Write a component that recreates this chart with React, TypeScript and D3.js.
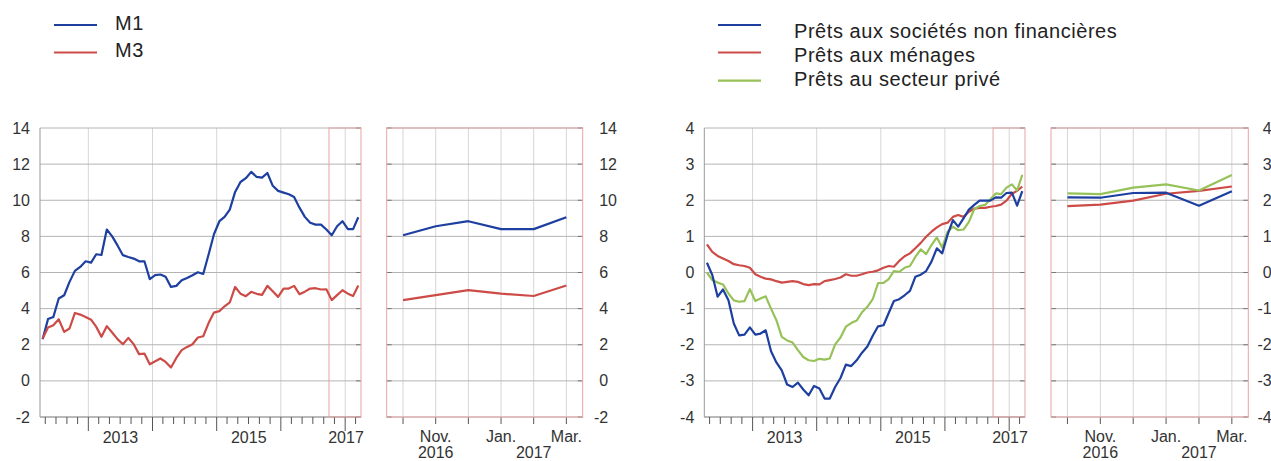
import React from "react";
import * as d3 from "d3";

// ---------- data ----------
const START_MONTH = "2012-04";

const M1 = [
  2.3, 3.42, 3.54, 4.56, 4.74, 5.48, 6.09, 6.31, 6.62, 6.55,
  7.01, 6.97, 8.38, 8.0, 7.5, 6.96, 6.86, 6.77, 6.62, 6.62,
  5.63, 5.85, 5.89, 5.76, 5.2, 5.26, 5.57, 5.7, 5.85, 6.01,
  5.92, 7.0, 8.12, 8.84, 9.08, 9.48, 10.46, 11.01, 11.22, 11.57,
  11.29, 11.25, 11.51, 10.8, 10.52, 10.42, 10.33, 10.18, 9.59, 9.08,
  8.75, 8.65, 8.65, 8.38, 8.06, 8.56, 8.84, 8.4, 8.4, 9.06,
];
const M3 = [
  2.34, 2.95, 3.08, 3.41, 2.71, 2.9, 3.76, 3.67, 3.54, 3.39,
  2.99, 2.44, 3.03, 2.68, 2.31, 2.03, 2.38, 2.03, 1.48, 1.51,
  0.92, 1.09, 1.24, 1.05, 0.74, 1.27, 1.7, 1.88, 2.03, 2.4,
  2.47, 3.2, 3.78, 3.86, 4.13, 4.34, 5.2, 4.83, 4.69, 4.93,
  4.82, 4.76, 5.26, 4.96, 4.65, 5.11, 5.11, 5.26, 4.8, 4.94,
  5.11, 5.13, 5.06, 5.07, 4.47, 4.75, 5.02, 4.83, 4.7, 5.28,
];
const NFC = [
  0.27, -0.07, -0.67, -0.47, -0.77, -1.41, -1.74, -1.72, -1.52, -1.72,
  -1.69, -1.6, -2.18, -2.49, -2.71, -3.1, -3.17, -3.05, -3.24, -3.4,
  -3.14, -3.21, -3.49, -3.49, -3.17, -2.92, -2.55, -2.59, -2.43, -2.22,
  -2.05, -1.75, -1.49, -1.46, -1.12, -0.79, -0.74, -0.63, -0.51, -0.12,
  -0.06, 0.04, 0.3, 0.67, 0.53, 1.05, 1.45, 1.27, 1.5, 1.74,
  1.87, 1.99, 1.99, 1.99, 2.08, 2.07, 2.2, 2.21, 1.85, 2.25,
];
const HOUSEHOLDS = [
  0.78, 0.57, 0.46, 0.39, 0.32, 0.23, 0.2, 0.18, 0.13, -0.05,
  -0.12, -0.17, -0.19, -0.24, -0.28, -0.26, -0.24, -0.26, -0.32, -0.35,
  -0.32, -0.33, -0.24, -0.21, -0.18, -0.14, -0.05, -0.09, -0.09, -0.05,
  0.0, 0.02, 0.06, 0.13, 0.18, 0.16, 0.32, 0.45, 0.53, 0.67,
  0.82, 0.99, 1.13, 1.25, 1.34, 1.38, 1.54, 1.59, 1.54, 1.68,
  1.77, 1.79, 1.79, 1.82, 1.84, 1.88, 1.99, 2.18, 2.26, 2.38,
];
const PRIVATE = [
  0.0, -0.21, -0.28, -0.33, -0.58, -0.77, -0.81, -0.79, -0.46, -0.79,
  -0.72, -0.66, -1.0, -1.32, -1.78, -1.88, -1.94, -2.15, -2.34, -2.43,
  -2.45, -2.39, -2.41, -2.38, -1.99, -1.8, -1.5, -1.4, -1.33, -1.1,
  -0.95, -0.74, -0.29, -0.29, -0.18, 0.04, 0.02, 0.13, 0.18, 0.43,
  0.64, 0.51, 0.76, 0.97, 0.69, 1.13, 1.27, 1.17, 1.19, 1.4,
  1.75, 1.84, 1.87, 2.03, 2.19, 2.17, 2.35, 2.44, 2.27, 2.7,
];

const MONEY_TICKS = [-2, 0, 2, 4, 6, 8, 10, 12, 14];
const LOAN_TICKS = [-4, -3, -2, -1, 0, 1, 2, 3, 4];
const YEAR_LABELS = [2013, 2015, 2017];
const ZOOM_MONTHS = ["Oct.", "Nov.", "Dec.", "Jan.", "Feb.", "Mar."];
const ZOOM_SHOWN = ["Nov.", "Jan.", "Mar."];
const ZOOM_YEARS = ["2016", "2016", "2016", "2017", "2017", "2017"];
const MONEY_LEGEND = ["M1", "M3"];
const LOAN_LEGEND = [
  "Prêts aux sociétés non financières",
  "Prêts aux ménages",
  "Prêts au secteur privé",
];

// ---------- style ----------
const BLUE = "#1d3f9f";
const RED = "#cd4b47";
const GREEN = "#97c259";
const FRAME_RED = "#e9a3a3";
const FONT = "'Liberation Sans', Arial, Helvetica, sans-serif";
const TEXT = "#333";

const start = d3.timeParse("%Y-%m")(START_MONTH) as Date;
const end = d3.timeMonth.offset(start, M1.length);
const months = d3.timeMonth.range(start, end);

type Series = { values: number[]; color: string };

function MainPanel(props: {
  left: number; right: number; top: number; bottom: number;
  domain: [number, number]; ticks: number[]; series: Series[];
}) {
  const { left, right, top, bottom, domain, ticks, series } = props;
  const x = d3.scaleTime().domain([start, end]).range([left, right]);
  const y = d3.scaleLinear().domain(domain).range([bottom, top]);
  const mid = (d: Date) => (x(d) + x(d3.timeMonth.offset(d, 1))) / 2;
  const line = d3.line<number>().x((_, i) => mid(months[i])).y((v) => y(v));
  const minor = d3.timeMonth.every(2)!.range(start, end);
  const years = d3.timeYear.range(start, end);
  const zoomStart = months[months.length - ZOOM_MONTHS.length];
  return (
    <g>
      {years.map((d, i) => (
        <line key={"vg" + i} x1={x(d)} x2={x(d)} y1={top} y2={bottom} stroke="#d6d6d6" />
      ))}
      {ticks.map((t) => (
        <g key={"hg" + t}>
          <line x1={left} x2={right} y1={y(t)} y2={y(t)} stroke="#b4b4b4" />
          <line x1={right - 5} x2={right} y1={y(t)} y2={y(t)} stroke="#777" />
          <text x={left - 10} y={y(t)} dy="0.35em" textAnchor="end" fontSize={16} fill={TEXT} fontFamily={FONT}>
            {t}
          </text>
        </g>
      ))}
      <line x1={left} x2={left} y1={top} y2={bottom} stroke="#999" />
      <line x1={left} x2={right} y1={bottom} y2={bottom} stroke="#999" />
      {minor.map((d, i) => (
        <line key={"tk" + i} x1={x(d)} x2={x(d)} y1={bottom} y2={bottom + (d.getMonth() === 0 ? 14 : 7)} stroke="#555" />
      ))}
      {YEAR_LABELS.map((yr) => {
        const a = Math.max(+start, +new Date(yr, 0, 1));
        const b = Math.min(+end, +new Date(yr + 1, 0, 1));
        const c = Math.min((x(new Date(a)) + x(new Date(b))) / 2, right - 15);
        return (
          <text key={"yl" + yr} x={c} y={443} textAnchor="middle" fontSize={16} fill={TEXT} fontFamily={FONT}>
            {yr}
          </text>
        );
      })}
      <rect x={x(zoomStart)} y={top} width={right - x(zoomStart)} height={bottom - top} fill="none" stroke={FRAME_RED} />
      {series.map((s, i) => (
        <path key={"s" + i} d={line(s.values) || ""} fill="none" stroke={s.color} strokeWidth={2.2} strokeLinejoin="round" />
      ))}
    </g>
  );
}

function ZoomPanel(props: {
  left: number; right: number; top: number; bottom: number;
  domain: [number, number]; ticks: number[]; series: Series[]; labelOffset: number;
}) {
  const { left, right, top, bottom, domain, ticks, series, labelOffset } = props;
  const x = d3.scalePoint<string>().domain(ZOOM_MONTHS).range([left, right]).padding(0.5);
  const y = d3.scaleLinear().domain(domain).range([bottom, top]);
  const n = ZOOM_MONTHS.length;
  const line = d3.line<number>().x((_, i) => x(ZOOM_MONTHS[i]) as number).y((v) => y(v));
  const yearNames = Array.from(new Set(ZOOM_YEARS));
  return (
    <g>
      {ZOOM_MONTHS.map((m) => (
        <g key={"zm" + m}>
          <line x1={x(m)} x2={x(m)} y1={top} y2={bottom} stroke="#d6d6d6" />
          <line x1={x(m)} x2={x(m)} y1={bottom} y2={bottom + 7} stroke="#555" />
        </g>
      ))}
      {ticks.map((t) => (
        <g key={"zh" + t}>
          <line x1={left} x2={right} y1={y(t)} y2={y(t)} stroke="#b4b4b4" />
          <line x1={left} x2={left + 5} y1={y(t)} y2={y(t)} stroke="#777" />
          <line x1={right - 5} x2={right} y1={y(t)} y2={y(t)} stroke="#777" />
          <text x={right + labelOffset - (t < 0 ? 5.3 : 0)} y={y(t)} dy="0.35em" textAnchor="start" fontSize={16} fill={TEXT} fontFamily={FONT}>
            {t}
          </text>
        </g>
      ))}
      {ZOOM_SHOWN.map((m) => (
        <text key={"zl" + m} x={x(m)} y={442} textAnchor="middle" fontSize={16} fill={TEXT} fontFamily={FONT}>
          {m}
        </text>
      ))}
      {yearNames.map((yn) => {
        const xs = ZOOM_MONTHS.filter((_, i) => ZOOM_YEARS[i] === yn).map((m) => x(m) as number);
        return (
          <text key={"zy" + yn} x={d3.mean(xs)} y={458} textAnchor="middle" fontSize={16} fill={TEXT} fontFamily={FONT}>
            {yn}
          </text>
        );
      })}
      <rect x={left} y={top} width={right - left} height={bottom - top} fill="none" stroke={FRAME_RED} />
      {series.map((s, i) => (
        <path key={"zs" + i} d={line(s.values.slice(s.values.length - n)) || ""} fill="none" stroke={s.color} strokeWidth={2.2} strokeLinejoin="round" />
      ))}
    </g>
  );
}

function Legend(props: { x: number; textX: number; lineYs: number[]; textYs: number[]; labels: string[]; colors: string[]; spacing: number }) {
  const { x, textX, lineYs, textYs, labels, colors, spacing } = props;
  return (
    <g>
      {labels.map((l, i) => (
        <g key={"lg" + i}>
          <line x1={x} x2={x + 43} y1={lineYs[i]} y2={lineYs[i]} stroke={colors[i]} strokeWidth={2.2} />
          <text x={textX} y={textYs[i]} fontSize={20} fill="#222" fontFamily={FONT} letterSpacing={spacing}>
            {l}
          </text>
        </g>
      ))}
    </g>
  );
}

export default function App() {
  const money: Series[] = [
    { values: M1, color: BLUE },
    { values: M3, color: RED },
  ];
  const loans: Series[] = [
    { values: HOUSEHOLDS, color: RED },
    { values: PRIVATE, color: GREEN },
    { values: NFC, color: BLUE },
  ];
  return (
    <svg width={1271} height={461} style={{ position: "absolute", left: 0, top: 0, display: "block", background: "#fff" }}>
      <Legend x={54} textX={115} lineYs={[25, 52.5]} textYs={[29.5, 57.3]} labels={MONEY_LEGEND} colors={[BLUE, RED]} spacing={0.5} />
      <Legend x={718} textX={794} lineYs={[25, 52.5, 80.7]} textYs={[37.5, 61.7, 86]} labels={LOAN_LEGEND} colors={[BLUE, RED, GREEN]} spacing={0.55} />
      <MainPanel left={40} right={361} top={128} bottom={417} domain={[-2, 14]} ticks={MONEY_TICKS} series={money} />
      <ZoomPanel left={386.7} right={582.7} top={128} bottom={417} domain={[-2, 14]} ticks={MONEY_TICKS} series={money} labelOffset={16.5} />
      <MainPanel left={704.3} right={1025} top={128} bottom={417} domain={[-4, 4]} ticks={LOAN_TICKS} series={loans} />
      <ZoomPanel left={1051} right={1248.3} top={128} bottom={417} domain={[-4, 4]} ticks={LOAN_TICKS} series={loans} labelOffset={14.5} />
    </svg>
  );
}
